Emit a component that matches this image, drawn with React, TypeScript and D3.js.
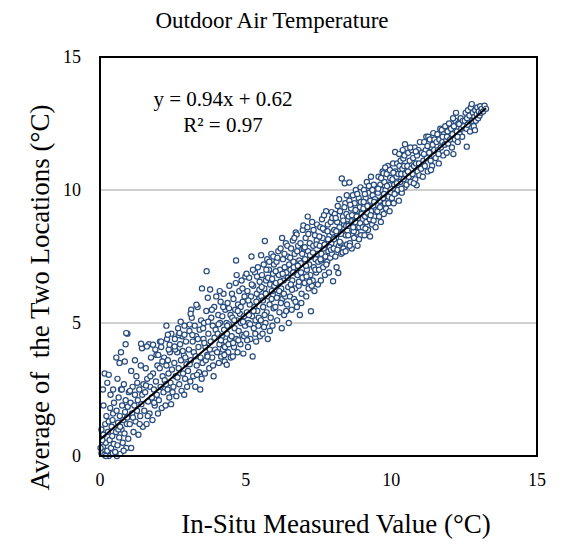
import React from "react";
import * as d3 from "d3";

const chartTitle = "Outdoor Air Temperature";
const xAxisTitle = "In-Situ Measured Value (°C)";
const yAxisTitle = "Average of  the Two Locations (°C)";
const xTickValues = [0, 5, 10, 15];
const yTickValues = [0, 5, 10, 15];
const gridValues = [5, 10];
const trendSlope = 0.94;
const trendIntercept = 0.62;
const equationText = "y = 0.94x + 0.62";
const r2Text = "R² = 0.97";

// [in-situ measured, average of two locations]
const pts0to1: number[][] = [
  [0.05,0.1],[0.1,0.35],[0.12,0.8],[0.15,0.05],[0.18,1.2],[0.2,0.5],[0.22,1.5],[0.25,0.2],[0.27,0.9],[0.3,0.0],[0.3,1.3],[0.33,0.6],[0.35,1.8],[0.38,0.3],[0.4,1.1],[0.42,0.75],[0.44,0.1],[0.45,1.6],[0.47,0.45],[0.48,2.0],[0.08,0.6],[0.16,3.1],[0.3,3.05],[0.1,2.5],[0.25,2.75],[0.05,1.0],[0.36,2.3],[0.2,0.0],[0.43,1.35],[0.12,1.9],[0.02,0.3],[0.58,0.0],[0.7,0.08],
  [0.52,0.15],[0.55,0.9],[0.57,1.7],[0.6,0.4],[0.62,1.25],[0.64,2.2],[0.66,0.7],[0.68,1.5],[0.72,2.5],[0.74,1.0],[0.76,1.9],[0.78,0.5],[0.8,1.35],[0.82,2.7],[0.84,0.85],[0.86,1.65],[0.88,2.1],[0.9,0.3],[0.92,1.2],[0.94,4.6],[0.95,1.85],[0.97,0.65],[0.99,2.4],[0.56,3.7],[0.72,3.9],[0.85,3.55],[0.67,3.5],[0.6,2.9],[0.45,2.5],[0.75,2.5],[0.88,4.2],[0.63,1.0],[0.81,0.2],[0.69,1.1],[0.93,1.45],[0.9,4.62]
];
const pts1to2: number[][] = [
  [1.02,1.2],[1.05,2.0],[1.07,3.2],[1.07,0.3],[1.1,1.6],[1.12,2.6],[1.15,0.9],[1.18,1.9],[1.2,2.3],[1.22,1.3],[1.25,3.0],[1.27,1.7],[1.3,2.1],[1.32,0.8],[1.35,2.5],[1.38,1.5],[1.4,3.4],[1.42,1.95],[1.45,2.3],[1.47,1.1],[1.49,2.7],[1.13,1.45],[1.28,2.75],[1.36,1.2],[1.03,2.45],[1.44,4.05],[1.2,3.6],[1.41,4.22],
  [1.52,1.7],[1.55,2.4],[1.57,3.3],[1.6,1.2],[1.62,2.9],[1.65,2.05],[1.68,4.2],[1.7,1.6],[1.72,2.6],[1.75,3.7],[1.78,2.2],[1.8,1.35],[1.82,3.1],[1.85,2.5],[1.88,1.9],[1.9,4.0],[1.92,2.8],[1.95,2.3],[1.97,3.4],[1.99,1.6],[1.58,2.65],[1.73,3.0],[1.86,2.0],[1.64,1.5],[1.94,3.8],[1.61,4.12],[1.82,4.18]
];
const pts2to3: number[][] = [
  [2.02,2.1],[2.05,3.3],[2.08,2.6],[2.1,4.1],[2.12,1.8],[2.15,3.0],[2.18,2.4],[2.2,3.7],[2.22,2.85],[2.25,1.9],[2.28,3.4],[2.3,4.4],[2.32,2.5],[2.35,3.1],[2.38,2.2],[2.4,3.9],[2.42,2.75],[2.45,4.6],[2.47,3.25],[2.49,2.4],[2.14,3.55],[2.26,2.7],[2.36,4.0],[2.44,1.95],[2.06,4.3],[2.1,4.3],[2.33,4.56],[2.39,4.18],[2.0,3.8],[2.33,3.6],[2.28,4.9],
  [2.52,2.6],[2.55,3.5],[2.57,4.4],[2.6,3.0],[2.62,2.25],[2.65,3.9],[2.68,4.8],[2.7,3.3],[2.72,2.7],[2.75,4.2],[2.78,3.6],[2.8,2.45],[2.82,4.5],[2.85,3.1],[2.88,3.8],[2.9,4.9],[2.92,2.9],[2.95,4.3],[2.97,3.45],[2.99,2.6],[2.58,4.0],[2.7,4.55],[2.84,3.95],[2.93,3.7],[2.66,2.95],[2.77,5.05],[2.89,2.3],[2.73,4.62],[2.9,4.56],[2.56,4.12]
];
const pts3to4: number[][] = [
  [3.02,3.2],[3.05,4.0],[3.07,4.7],[3.1,2.8],[3.12,3.6],[3.15,5.2],[3.18,4.3],[3.2,3.0],[3.22,3.9],[3.25,4.9],[3.27,2.6],[3.3,4.5],[3.32,3.4],[3.35,5.6],[3.38,4.1],[3.4,3.15],[3.42,4.75],[3.45,3.7],[3.47,5.1],[3.49,2.9],[3.5,6.3],[3.08,3.45],[3.17,4.55],[3.28,3.75],[3.36,4.4],[3.44,2.5],[3.13,5.5],[3.33,3.05],[3.08,4.94],[3.31,5.69],[3.11,5.35],
  [3.52,3.5],[3.55,4.4],[3.57,5.0],[3.6,3.1],[3.62,4.1],[3.65,5.45],[3.66,6.95],[3.68,3.8],[3.7,5.95],[3.72,4.6],[3.75,3.3],[3.78,6.26],[3.8,4.3],[3.82,5.2],[3.85,3.7],[3.87,4.9],[3.9,3.0],[3.92,5.6],[3.95,4.0],[3.97,4.75],[3.99,6.0],[3.54,4.8],[3.63,3.6],[3.71,5.05],[3.77,4.0],[3.84,5.5],[3.88,3.4],[3.93,4.45],[3.58,4.25],[3.69,3.74]
];
const pts4to5: number[][] = [
  [4.02,3.9],[4.04,4.6],[4.06,5.3],[4.08,3.5],[4.1,4.2],[4.12,5.0],[4.14,5.8],[4.16,3.74],[4.18,4.5],[4.2,5.25],[4.22,4.0],[4.24,6.1],[4.26,4.75],[4.28,3.55],[4.3,5.5],[4.32,4.3],[4.34,5.0],[4.35,3.43],[4.36,4.6],[4.38,5.75],[4.4,3.9],[4.42,4.95],[4.44,6.4],[4.46,4.4],[4.48,5.3],[4.49,3.7],[4.07,4.95],[4.15,4.35],[4.23,5.6],[4.29,4.1],[4.37,4.9],[4.43,5.55],[4.11,6.2],[4.27,3.8],[4.41,4.2],
  [4.52,4.5],[4.54,5.2],[4.56,3.74],[4.58,5.9],[4.6,4.1],[4.62,4.8],[4.64,5.5],[4.66,6.5],[4.67,7.35],[4.68,4.4],[4.7,5.1],[4.72,3.9],[4.74,5.7],[4.76,4.7],[4.78,6.2],[4.8,5.35],[4.82,4.2],[4.84,5.0],[4.86,6.6],[4.88,4.55],[4.9,5.8],[4.92,3.85],[4.94,5.25],[4.96,6.0],[4.98,4.9],[4.53,6.1],[4.61,5.1],[4.69,6.8],[4.75,4.35],[4.83,5.6],[4.89,6.3],[4.95,4.5],[4.57,4.25],[4.73,5.45],[4.91,5.05],[4.99,6.75]
];
const pts5to6: number[][] = [
  [5.02,4.6],[5.04,5.4],[5.06,6.2],[5.08,4.1],[5.1,5.0],[5.12,6.7],[5.14,5.7],[5.16,4.4],[5.18,6.0],[5.2,7.5],[5.22,5.25],[5.24,3.74],[5.26,6.4],[5.28,4.8],[5.3,5.6],[5.32,6.9],[5.34,5.1],[5.36,4.3],[5.38,6.1],[5.4,5.45],[5.42,7.1],[5.44,4.9],[5.46,5.9],[5.48,6.55],[5.03,6.85],[5.09,5.85],[5.15,4.95],[5.21,6.45],[5.27,5.45],[5.33,4.6],[5.39,6.75],[5.45,5.2],[5.49,4.5],[5.11,5.3],[5.25,7.0],[5.37,5.8],[5.47,6.25],[5.05,4.35],
  [5.52,5.1],[5.54,6.0],[5.56,6.8],[5.58,4.6],[5.6,5.6],[5.62,7.2],[5.64,6.3],[5.66,8.08],[5.68,5.0],[5.7,6.6],[5.72,5.4],[5.74,7.4],[5.76,4.4],[5.78,6.0],[5.8,7.0],[5.82,5.7],[5.84,6.45],[5.86,5.2],[5.88,7.6],[5.9,6.2],[5.92,4.9],[5.94,6.85],[5.95,7.5],[5.96,5.55],[5.98,6.4],[5.53,7.55],[5.59,5.85],[5.65,5.3],[5.71,7.0],[5.77,6.7],[5.83,4.7],[5.89,5.9],[5.97,7.2],[5.55,6.35],[5.69,6.1],[5.81,7.3],[5.91,6.65],[5.63,4.85]
];
const pts6to7: number[][] = [
  [6.02,5.6],[6.04,6.5],[6.06,7.3],[6.08,5.1],[6.1,6.1],[6.12,7.7],[6.14,6.8],[6.16,5.4],[6.18,7.0],[6.2,7.8],[6.22,6.3],[6.24,4.8],[6.26,5.9],[6.28,7.4],[6.3,6.6],[6.32,5.3],[6.34,7.1],[6.36,6.0],[6.38,8.0],[6.4,6.9],[6.42,5.7],[6.44,7.5],[6.46,6.35],[6.48,5.0],[6.03,6.95],[6.09,7.45],[6.15,6.2],[6.21,5.75],[6.27,6.85],[6.33,7.6],[6.39,5.45],[6.45,6.7],[6.49,7.2],[6.07,5.95],[6.19,6.55],[6.31,6.1],[6.43,7.9],[6.25,8.2],
  [6.52,6.0],[6.54,7.0],[6.56,7.8],[6.58,5.5],[6.6,6.6],[6.62,8.1],[6.64,7.3],[6.66,5.9],[6.68,7.6],[6.7,6.3],[6.72,8.4],[6.74,7.0],[6.75,8.33],[6.76,5.6],[6.78,6.8],[6.8,7.9],[6.82,6.4],[6.84,7.35],[6.86,5.3],[6.88,8.0],[6.9,6.9],[6.92,6.1],[6.94,7.6],[6.96,8.5],[6.98,8.67],[6.53,7.45],[6.59,6.25],[6.65,7.1],[6.71,5.8],[6.77,7.7],[6.83,6.55],[6.89,7.25],[6.95,6.7],[6.55,6.45],[6.67,8.2],[6.79,7.15],[6.91,5.75],[6.99,7.8],[6.63,6.9]
];
const pts7to8: number[][] = [
  [7.02,6.5],[7.04,7.4],[7.06,8.2],[7.08,6.0],[7.1,7.0],[7.12,8.6],[7.14,7.7],[7.16,6.3],[7.18,7.2],[7.2,8.0],[7.22,6.8],[7.24,5.44],[7.26,7.5],[7.28,8.8],[7.3,6.6],[7.32,7.9],[7.34,7.1],[7.36,6.2],[7.38,8.3],[7.4,7.4],[7.42,6.9],[7.44,8.1],[7.46,7.6],[7.48,6.45],[7.03,7.85],[7.09,6.75],[7.15,8.35],[7.21,7.55],[7.27,6.4],[7.33,8.5],[7.39,7.0],[7.45,8.7],[7.49,7.3],[7.07,7.15],[7.19,6.55],[7.31,7.65],[7.43,7.95],[7.13,9.0],
  [7.52,7.0],[7.54,7.9],[7.56,8.6],[7.58,6.6],[7.6,7.6],[7.62,8.9],[7.64,8.2],[7.66,7.1],[7.68,7.8],[7.7,8.5],[7.72,6.8],[7.74,7.5],[7.76,9.2],[7.78,8.0],[7.8,7.3],[7.82,8.7],[7.84,7.7],[7.86,6.9],[7.88,8.3],[7.9,7.45],[7.92,8.8],[7.94,8.0],[7.95,9.17],[7.96,7.6],[7.98,8.4],[7.53,8.25],[7.59,7.35],[7.65,8.55],[7.71,7.95],[7.77,7.2],[7.83,8.15],[7.89,7.85],[7.97,8.95],[7.57,7.4],[7.69,9.05],[7.81,8.45],[7.93,7.75]
];
const pts8to9: number[][] = [
  [8.0,6.57],[8.02,7.8],[8.04,8.5],[8.06,9.1],[8.08,7.5],[8.1,8.2],[8.12,7.1],[8.14,8.8],[8.16,9.4],[8.18,6.88],[8.2,7.9],[8.22,8.6],[8.24,9.2],[8.26,8.0],[8.28,7.6],[8.3,10.43],[8.32,8.4],[8.34,9.0],[8.36,7.8],[8.38,8.7],[8.4,10.25],[8.42,9.5],[8.44,8.3],[8.46,9.1],[8.47,9.8],[8.48,7.95],[8.56,10.28],[8.03,8.15],[8.09,8.95],[8.15,7.75],[8.21,9.65],[8.27,8.35],[8.33,7.65],[8.39,9.35],[8.45,8.65],[8.49,8.9],[8.11,8.45],[8.23,8.05],[8.35,8.85],[8.43,7.7],
  [8.52,8.3],[8.54,9.0],[8.56,9.6],[8.58,8.0],[8.6,8.7],[8.62,9.3],[8.64,7.8],[8.66,8.5],[8.68,9.8],[8.7,9.0],[8.72,8.2],[8.74,9.5],[8.76,8.8],[8.78,10.0],[8.8,8.4],[8.82,9.2],[8.84,7.9],[8.86,8.95],[8.88,9.7],[8.9,8.6],[8.92,9.35],[8.94,10.1],[8.96,8.3],[8.98,9.1],[8.53,8.65],[8.59,9.45],[8.65,9.05],[8.71,8.45],[8.77,9.25],[8.83,9.85],[8.89,8.15],[8.95,9.55],[8.57,7.9],[8.69,8.6],[8.81,9.0],[8.93,8.75]
];
const pts9to10: number[][] = [
  [9.02,8.6],[9.04,9.3],[9.06,10.0],[9.08,8.3],[9.1,9.0],[9.12,9.7],[9.14,8.8],[9.16,10.3],[9.18,9.4],[9.2,8.5],[9.22,9.1],[9.24,9.9],[9.26,8.9],[9.28,9.6],[9.3,10.5],[9.32,9.2],[9.34,8.7],[9.36,9.8],[9.38,9.4],[9.4,10.2],[9.42,9.0],[9.44,9.65],[9.46,8.6],[9.48,10.0],[9.05,9.55],[9.11,8.55],[9.17,9.15],[9.23,10.15],[9.29,9.05],[9.35,10.0],[9.41,9.55],[9.47,9.25],[9.09,9.85],[9.27,8.25],[9.39,8.85],
  [9.52,9.2],[9.54,9.9],[9.56,10.5],[9.58,9.0],[9.6,9.6],[9.62,10.2],[9.64,8.8],[9.66,9.4],[9.68,10.0],[9.7,10.7],[9.72,9.7],[9.73,10.63],[9.74,9.1],[9.76,10.3],[9.78,9.5],[9.8,10.0],[9.82,9.3],[9.84,10.6],[9.86,9.8],[9.88,10.9],[9.9,9.5],[9.92,10.2],[9.94,9.2],[9.96,10.45],[9.98,9.9],[9.55,10.05],[9.65,10.45],[9.75,9.85],[9.85,10.15],[9.95,10.75],[9.61,9.35],[9.79,10.85],[9.91,9.75]
];
const pts10to11: number[][] = [
  [10.02,9.7],[10.04,10.4],[10.06,11.0],[10.08,9.5],[10.1,10.2],[10.13,11.43],[10.14,10.7],[10.16,9.9],[10.18,10.5],[10.2,11.0],[10.22,10.0],[10.24,10.6],[10.26,9.6],[10.28,10.9],[10.3,10.3],[10.32,11.1],[10.34,10.6],[10.36,9.9],[10.38,10.8],[10.41,11.18],[10.42,10.4],[10.44,10.9],[10.46,10.1],[10.47,11.72],[10.48,10.6],[10.07,10.65],[10.19,10.25],[10.27,11.35],[10.35,10.05],[10.45,11.3],[10.11,9.85],[10.39,11.5],
  [10.52,10.2],[10.55,10.9],[10.58,11.4],[10.6,10.5],[10.63,11.1],[10.66,10.3],[10.68,10.8],[10.7,11.5],[10.73,10.6],[10.75,11.2],[10.78,10.9],[10.8,11.6],[10.82,10.4],[10.85,11.0],[10.87,10.18],[10.88,11.3],[10.9,10.7],[10.93,11.5],[10.95,11.0],[10.98,11.8],[10.57,10.7],[10.65,11.6],[10.77,10.25],[10.84,11.45],[10.96,10.55]
];
const pts11to12: number[][] = [
  [11.02,10.8],[11.05,11.4],[11.08,10.5],[11.1,11.1],[11.13,11.8],[11.15,10.9],[11.18,11.5],[11.2,12.0],[11.22,11.2],[11.25,10.7],[11.27,12.0],[11.3,11.4],[11.32,11.9],[11.35,11.1],[11.38,11.6],[11.4,10.9],[11.42,11.7],[11.44,12.14],[11.46,11.3],[11.48,11.9],[11.12,11.35],[11.24,11.65],[11.36,10.75],[11.47,11.5],
  [11.52,11.2],[11.55,11.8],[11.58,12.1],[11.6,11.5],[11.63,11.0],[11.65,11.9],[11.68,12.3],[11.7,11.6],[11.73,12.26],[11.75,11.8],[11.78,11.3],[11.8,12.1],[11.83,11.7],[11.85,12.4],[11.88,11.9],[11.9,11.4],[11.93,12.2],[11.95,11.75],[11.98,12.5],[11.62,11.35],[11.76,12.0],[11.91,12.0]
];
const pts12to13: number[][] = [
  [12.02,11.9],[12.05,12.3],[12.08,11.6],[12.1,12.1],[12.13,11.35],[12.15,12.4],[12.18,11.9],[12.2,12.6],[12.22,12.9],[12.25,12.2],[12.28,11.8],[12.3,12.5],[12.33,12.48],[12.35,12.1],[12.38,12.7],[12.4,12.3],[12.43,12.0],[12.45,12.6],[12.48,12.4],[12.12,12.7],[12.27,12.0],
  [12.52,12.6],[12.55,12.9],[12.58,12.3],[12.59,11.63],[12.6,12.7],[12.63,13.0],[12.65,12.5],[12.68,12.8],[12.7,12.2],[12.73,13.1],[12.76,13.23],[12.78,12.6],[12.8,12.9],[12.83,12.4],[12.85,12.75],[12.88,13.0],[12.9,12.6],[12.93,12.85],[12.95,13.1],[12.98,12.7],[13.0,12.95],[13.03,12.8],[13.05,13.15],[13.08,12.9],[13.1,13.05],[13.15,12.95],[13.2,13.17],[13.25,13.05],[12.62,12.45],[12.87,12.25]
];

const allPoints = [
  ...pts0to1, ...pts1to2, ...pts2to3, ...pts3to4, ...pts4to5, ...pts5to6, ...pts6to7,
  ...pts7to8, ...pts8to9, ...pts9to10, ...pts10to11, ...pts11to12, ...pts12to13,
];

const W = 574;
const H = 544;
const M = { left: 100, right: 537, top: 57, bottom: 456 };
const serif = { fontFamily: "'Liberation Serif', 'Times New Roman', serif" };

export default function App() {
  const x = d3.scaleLinear().domain([0, 15]).range([M.left, M.right]);
  const y = d3.scaleLinear().domain([0, 15]).range([M.bottom, M.top]);
  const [xmin, xmax] = d3.extent(allPoints, (d) => d[0]) as [number, number];
  const trend = d3
    .line<number>()
    .x((v) => x(v))
    .y((v) => y(trendSlope * v + trendIntercept))([xmin, xmax]);

  return (
    <svg
      width={W}
      height={H}
      style={{ position: "absolute", left: 0, top: 0, background: "#fff" }}
    >
      <rect x={0} y={0} width={W} height={H} fill="#fff" />
      <text x={272} y={28} textAnchor="middle" fontSize={23} fill="#000" style={serif}>
        {chartTitle}
      </text>
      {gridValues.map((g) => (
        <line key={g} x1={M.left} x2={M.right} y1={y(g)} y2={y(g)} stroke="#bfbfbf" strokeWidth={1.5} />
      ))}
      <g>
        {allPoints.map((p, i) => (
          <circle key={i} cx={x(p[0])} cy={y(p[1])} r={2.6} fill="#fff" stroke="#274B7D" strokeWidth={1.2} />
        ))}
      </g>
      <path d={trend || ""} stroke="#000" strokeWidth={2} fill="none" />
      <rect
        x={M.left}
        y={M.top}
        width={M.right - M.left}
        height={M.bottom - M.top}
        fill="none"
        stroke="#000"
        strokeWidth={2}
      />
      {yTickValues.map((t) => (
        <text key={t} x={81} y={y(t)} dy="0.35em" textAnchor="end" fontSize={18} fill="#000" style={serif}>
          {t}
        </text>
      ))}
      {xTickValues.map((t) => (
        <text key={t} x={x(t)} y={486} textAnchor="middle" fontSize={18} fill="#000" style={serif}>
          {t}
        </text>
      ))}
      <text x={336} y={533} textAnchor="middle" fontSize={27} fill="#000" style={serif}>
        {xAxisTitle}
      </text>
      <text
        transform={`translate(49, ${(M.top + M.bottom) / 2 + 41}) rotate(-90)`}
        textAnchor="middle"
        fontSize={27}
        fill="#000"
        style={{ ...serif, whiteSpace: "pre" }}
      >
        {yAxisTitle}
      </text>
      <text x={223} y={106} textAnchor="middle" fontSize={21} fill="#000" style={serif}>
        {equationText}
      </text>
      <text x={223} y={132} textAnchor="middle" fontSize={21} fill="#000" style={serif}>
        {r2Text}
      </text>
    </svg>
  );
}
